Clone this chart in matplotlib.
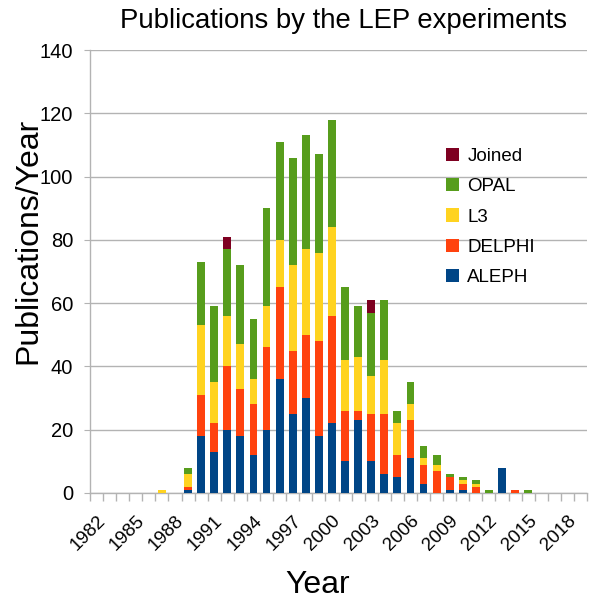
import matplotlib
matplotlib.use("Agg")
import matplotlib.pyplot as plt
import numpy as np

plt.rcParams['font.family'] = ['Liberation Sans', 'DejaVu Sans']

years = list(range(1982, 2020))
# values per year 1982..2019
aleph  = [0,0,0,0,0,0,0,1,18,13,20,18,12,20,36,25,30,18,22,10,23,10,6,5,11,3,0,1,1,0,0,8,0,0,0,0,0,0]
delphi = [0,0,0,0,0,0,0,1,13,9,20,15,16,26,29,20,20,30,34,16,3,15,19,7,12,6,7,4,2,2,0,0,1,0,0,0,0,0]
l3     = [0,0,0,0,0,1,0,4,22,13,16,14,8,13,15,27,27,28,28,16,17,12,17,10,5,2,2,0,1,1,0,0,0,0,0,0,0,0]
opal   = [0,0,0,0,0,0,0,2,20,24,21,25,19,31,31,34,36,31,34,23,16,20,19,4,7,4,3,1,1,1,1,0,0,1,0,0,0,0]
joined = [0,0,0,0,0,0,0,0,0,0,4,0,0,0,0,0,0,0,0,0,0,4,0,0,0,0,0,0,0,0,0,0,0,0,0,0,0,0]

series = [("ALEPH", aleph, "#004586"),
          ("DELPHI", delphi, "#ff420e"),
          ("L3", l3, "#ffd320"),
          ("OPAL", opal, "#579d1c"),
          ("Joined", joined, "#7e0021")]

fig = plt.figure(figsize=(5.92, 6.01), dpi=100)
ax = fig.add_axes([90/592, 1-493/601, (587-90)/592, (493-50)/601])

x = np.array(years)
bottom = np.zeros(len(years))
handles = []
for name, vals, col in series:
    v = np.array(vals, dtype=float)
    h = ax.bar(x, v, width=0.6, bottom=bottom, color=col, label=name, zorder=3)
    handles.append(h)
    bottom += v

ax.set_xlim(1981.5, 2019.5)
ax.set_ylim(0, 140)
ax.set_yticks(np.arange(0, 141, 20))
ax.yaxis.grid(True, color="#b3b3b3", linewidth=1.0, zorder=0)
ax.set_axisbelow(True)

major = list(range(1982, 2019, 3))
ax.set_xticks(major)
ax.set_xticklabels([str(y) for y in major], rotation=45, ha="right", va="top",
                   rotation_mode="anchor", fontsize=13.5)
ax.set_xticks(np.arange(1981.5, 2020, 1.0), minor=True)
ax.tick_params(axis="x", which="major", length=0, pad=14)
ax.tick_params(axis="x", which="minor", length=6, color="#b3b3b3", width=1)
ax.tick_params(axis="y", which="major", length=4, color="#b3b3b3", labelsize=14.5, pad=8)

for s in ["top", "right"]:
    ax.spines[s].set_visible(False)
for s in ["left", "bottom"]:
    ax.spines[s].set_color("#b3b3b3")
    ax.spines[s].set_linewidth(1)

fig.text(28/592, 1-241/601, "Publications/Year", rotation=90, ha="center", va="center", fontsize=23)
fig.text(318/592, 1-585/601, "Year", ha="center", va="center", fontsize=23)
fig.text(343/592, 1-21/601, "Publications by the LEP experiments", ha="center", va="center", fontsize=19.8)

leg = ax.legend(handles[::-1], [s[0] for s in series][::-1], loc="upper left",
                bbox_to_anchor=((429-90)/497, 1-(131-50)/443), frameon=False,
                fontsize=13.5, handlelength=0.7, handleheight=0.7, handletextpad=0.45,
                labelspacing=0.7)

fig.savefig("out.png", dpi=100)
